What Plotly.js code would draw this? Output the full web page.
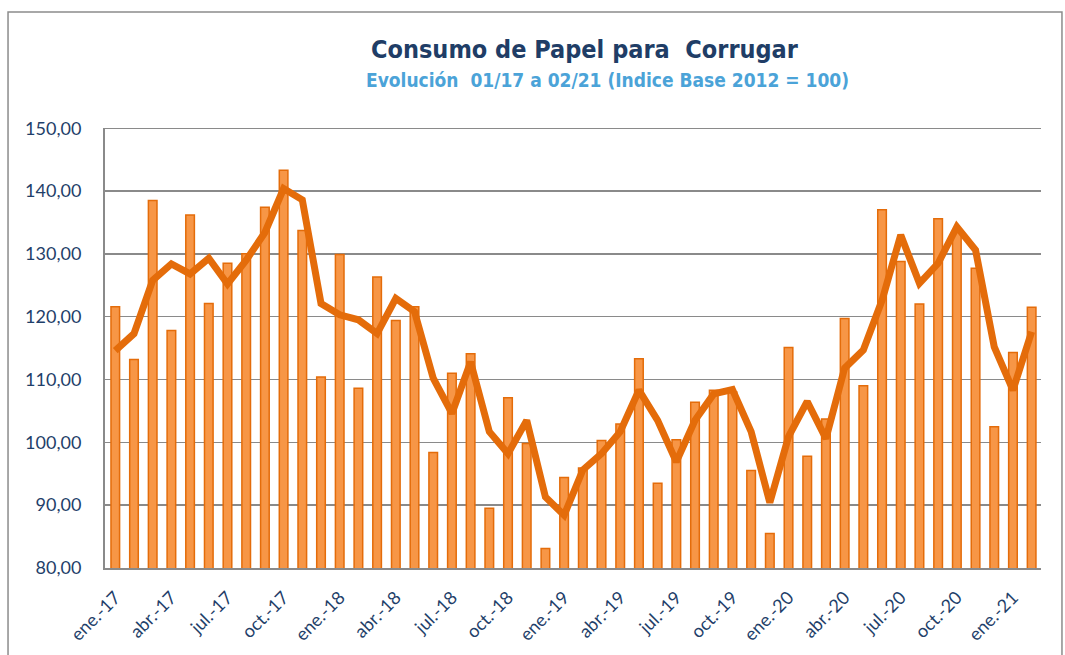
<!DOCTYPE html>
<html>
<head>
<meta charset="utf-8">
<script src="https://cdn.plot.ly/plotly-3.0.1.min.js"></script>
<style>
  html, body { margin: 0; padding: 0; background: #ffffff; }
  #chart { width: 1065px; height: 655px; }
</style>
</head>
<body>
<div id="chart"></div>
<script>
// Months ene-17 .. feb-21
const months = [
  "ene.-17","feb.-17","mar.-17","abr.-17","may.-17","jun.-17","jul.-17","ago.-17","sep.-17","oct.-17","nov.-17","dic.-17",
  "ene.-18","feb.-18","mar.-18","abr.-18","may.-18","jun.-18","jul.-18","ago.-18","sep.-18","oct.-18","nov.-18","dic.-18",
  "ene.-19","feb.-19","mar.-19","abr.-19","may.-19","jun.-19","jul.-19","ago.-19","sep.-19","oct.-19","nov.-19","dic.-19",
  "ene.-20","feb.-20","mar.-20","abr.-20","may.-20","jun.-20","jul.-20","ago.-20","sep.-20","oct.-20","nov.-20","dic.-20",
  "ene.-21","feb.-21"
];

// Monthly index (bars)
const monthlyIndex = [
  121.6, 113.2, 138.5, 117.8, 136.2, 122.1, 128.5, 130.0, 137.4, 143.3, 133.7, 110.4,
  129.9, 108.6, 126.3, 119.4, 121.6, 98.4, 111.0, 114.1, 89.5, 107.1, 99.8, 83.1,
  94.4, 95.9, 100.3, 102.9, 113.3, 93.5, 100.4, 106.4, 108.3, 108.0, 95.5, 85.5,
  115.1, 97.8, 103.7, 119.7, 109.0, 137.0, 128.8, 122.0, 135.6, 133.5, 127.7, 102.5,
  114.3, 121.5
];

// Trend line
const trendIndex = [
  114.6, 117.3, 125.8, 128.4, 126.8, 129.3, 125.2, 129.0, 133.4, 140.4, 138.6, 122.1,
  120.3, 119.5, 117.3, 122.9, 120.8, 110.2, 104.6, 112.8, 101.7, 98.2, 103.5, 91.3,
  88.4, 95.6, 98.2, 101.7, 108.3, 103.5, 96.9, 103.5, 107.7, 108.4, 101.7, 90.4,
  100.9, 106.5, 100.6, 111.8, 114.7, 122.6, 133.0, 125.3, 128.5, 134.3, 130.6, 115.2,
  108.3, 117.6
];

// Tick labels shown (every third month)
const tickLabels = [
  "ene.-17","abr.-17","jul.-17","oct.-17","ene.-18","abr.-18","jul.-18","oct.-18",
  "ene.-19","abr.-19","jul.-19","oct.-19","ene.-20","abr.-20","jul.-20","oct.-20","ene.-21"
];

const yTicks = [80, 90, 100, 110, 120, 130, 140, 150];

const navy = "#1F3F6A";

const traces = [
  {
    type: "bar",
    x: months,
    y: monthlyIndex,
    width: 0.46,
    marker: { color: "#F79646", line: { color: "#E46C0A", width: 1.5 } },
    hoverinfo: "x+y",
    showlegend: false
  },
  {
    type: "scatter",
    mode: "lines",
    x: months,
    y: trendIndex,
    line: { color: "#E46C0A", width: 7 },
    hoverinfo: "x+y",
    showlegend: false
  }
];

const layout = {
  width: 1065,
  height: 655,
  margin: { l: 105, r: 24, t: 128, b: 87 },
  paper_bgcolor: "#ffffff",
  plot_bgcolor: "#ffffff",
  separators: ",.",
  font: { family: "Lato, 'Open Sans', sans-serif", color: navy },
  xaxis: {
    type: "category",
    tickmode: "array",
    tickvals: tickLabels,
    ticktext: tickLabels,
    tickangle: -45,
    tickfont: { family: "Lato, sans-serif", size: 18, color: navy },
    showgrid: false,
    showline: true,
    linecolor: "#8a8a8a",
    linewidth: 2,
    ticks: "",
    ticklabelstandoff: 10,
    range: [-0.55, 49.5]
  },
  yaxis: {
    range: [80, 150.03],
    tickvals: yTicks,
    tickmode: "array",
    tickformat: ".2f",
    tickfont: { family: "Lato, sans-serif", size: 18, color: navy },
    showgrid: true,
    gridcolor: "#8a8a8a",
    gridwidth: 1.5,
    showline: true,
    linecolor: "#8a8a8a",
    linewidth: 2,
    zeroline: false,
    ticks: "",
    ticklabelstandoff: 18
  },
  annotations: [
    {
      xref: "paper", yref: "paper",
      x: 0.513, y: 1.178,
      xanchor: "center", yanchor: "middle",
      text: "<b>Consumo de Papel para  Corrugar</b>",
      showarrow: false,
      font: { family: "'DejaVu Sans Condensed', 'DejaVu Sans', sans-serif", size: 25, color: "#203D66" }
    },
    {
      xref: "paper", yref: "paper",
      x: 0.537, y: 1.108,
      xanchor: "center", yanchor: "middle",
      text: "<b>Evolución  01/17 a 02/21 (Indice Base 2012 = 100)</b>",
      showarrow: false,
      font: { family: "'DejaVu Sans Condensed', 'DejaVu Sans', sans-serif", size: 19, color: "#4BA3D8" }
    }
  ],
  shapes: [
    {
      type: "rect", xref: "paper", yref: "paper",
      x0: -0.1036, x1: 1.0224, y0: -0.25, y1: 1.2636,
      line: { color: "#8c8c8c", width: 1.5 },
      fillcolor: "rgba(0,0,0,0)",
      layer: "below"
    },
    {
      type: "line", xref: "paper", yref: "y",
      x0: 0, x1: 1, y0: yTicks[yTicks.length - 1], y1: yTicks[yTicks.length - 1],
      line: { color: "#8a8a8a", width: 1.5 },
      layer: "below"
    }
  ]
};

Plotly.newPlot("chart", traces, layout, { displayModeBar: false, staticPlot: true });
</script>
</body>
</html>
